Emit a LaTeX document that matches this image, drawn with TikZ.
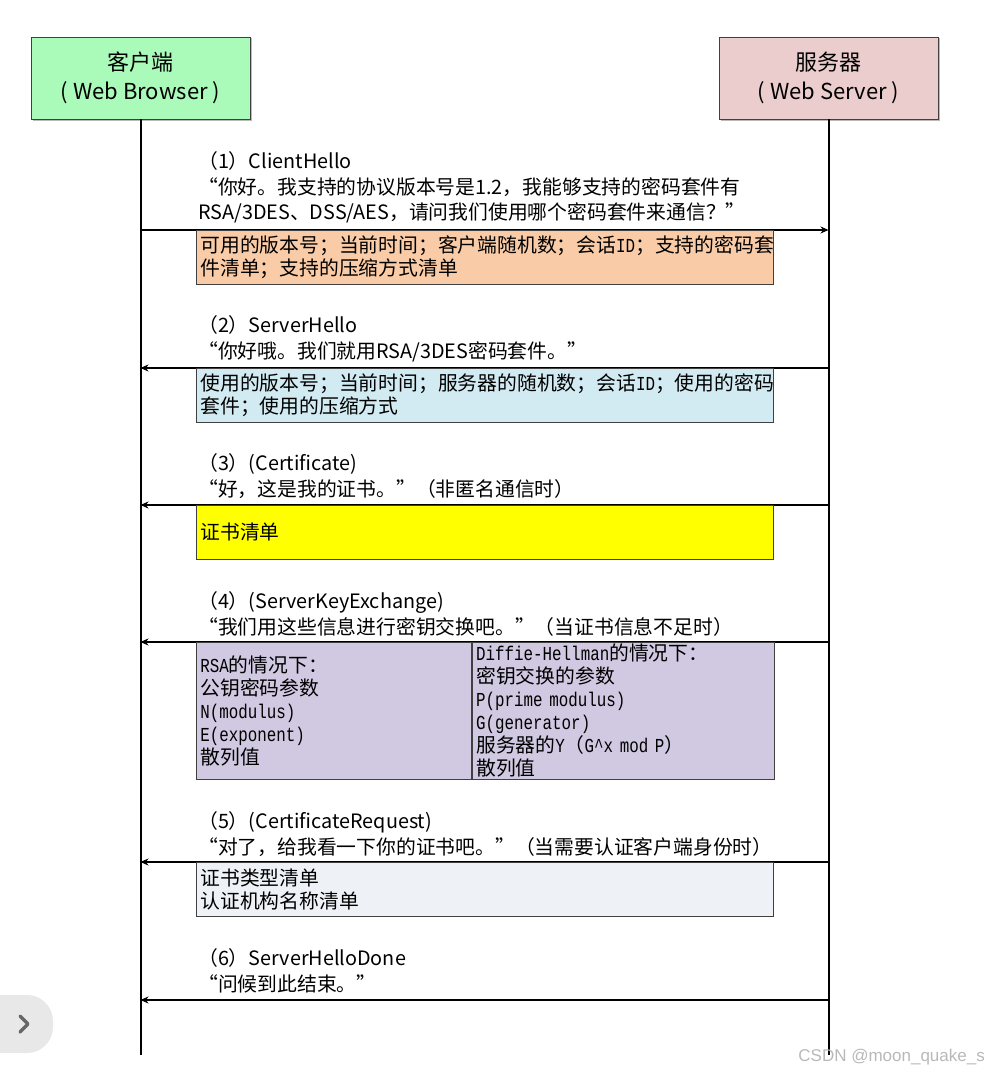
\documentclass[tikz,border=0pt]{standalone}
\usepackage{fontspec}
\setmainfont{Noto Sans CJK SC}
\newfontfamily\boxlatin[FakeStretch=0.8]{Liberation Mono}
\newfontfamily\wmfont{Liberation Sans}
\usetikzlibrary{positioning,arrows.meta,shadows}
\definecolor{clientgreen}{RGB}{170,250,186}
\definecolor{serverpink}{RGB}{236,205,205}
\definecolor{hellopeach}{RGB}{249,203,166}
\definecolor{helloblue}{RGB}{210,234,241}
\definecolor{certyellow}{RGB}{255,255,0}
\definecolor{keylilac}{RGB}{209,200,225}
\definecolor{reqgrey}{RGB}{238,241,245}
\newcommand{\lat}[1]{{\boxlatin #1}}
\begin{document}
\begin{tikzpicture}[x=1pt, y=-1pt, >={Stealth[length=8pt,width=7pt]},
    party/.style={draw=black!75, line width=0.9pt, minimum width=219pt, minimum height=82pt,
        align=center, font=\fontsize{22}{29}\selectfont,
        drop shadow={shadow xshift=1.5pt, shadow yshift=-1.5pt, fill=black!45, opacity=0.6}},
    lifeline/.style={line width=2pt},
    msg/.style={line width=1.3pt},
    said/.style={anchor=north west, inner sep=0pt, align=left, font=\fontsize{19.8}{25.5}\selectfont},
    infobox/.style={draw=black!75, line width=0.8pt, anchor=north west, inner xsep=4pt, inner ysep=1pt,
        align=left, font=\fontsize{19.8}{23}\selectfont,
        drop shadow={shadow xshift=1pt, shadow yshift=-1pt, fill=black!45, opacity=0.5}},
    wmark/.style={text=black!28, font=\wmfont\fontsize{17}{20}\selectfont, inner sep=0pt}]
    \useasboundingbox (0,0) rectangle (987,1073);
    % the two parties and their lifelines
    \node[party, fill=clientgreen] (client) at (140.5,78) {客户端\\( Web Browser )};
    \node[party, fill=serverpink] (server) at (828.5,78) {服务器\\( Web Server )};
    \coordinate (cend) at (140.5,1055);
    \coordinate (send) at (828.5,1055);
    \draw[lifeline] (client.south) -- (cend);
    \draw[lifeline] (server.south) -- (send);
    % where the messages meet the lifelines
    \coordinate (c1) at (140.5,230);
    \coordinate (s1) at (828.5,230);
    \coordinate (c2) at (140.5,368);
    \coordinate (s2) at (828.5,368);
    \coordinate (c3) at (140.5,505);
    \coordinate (s3) at (828.5,505);
    \coordinate (c4) at (140.5,642);
    \coordinate (s4) at (828.5,642);
    \coordinate (c5) at (140.5,862);
    \coordinate (s5) at (828.5,862);
    \coordinate (c6) at (140.5,1000);
    \coordinate (s6) at (828.5,1000);
    % (1) ClientHello
    \node[said] (hello1) at (198,151.5) {（1）ClientHello\\“你好。我支持的协议版本号是1.2，我能够支持的密码套件有\\RSA/3DES、DSS/AES，请问我们使用哪个密码套件来通信？”};
    \draw[msg, ->] (c1) -- (s1);
    \node[infobox, fill=hellopeach, text width=569pt, minimum height=54pt] (clientinfo) at (196,230)
        {可用的版本号；当前时间；客户端随机数；会话\lat{ID}；支持的密码套\\件清单；支持的压缩方式清单};
    % (2) ServerHello
    \node[said] (hello2) at (198,315.5) {（2）ServerHello\\“你好哦。我们就用RSA/3DES密码套件。”};
    \draw[msg, ->] (s2) -- (c2);
    \node[infobox, fill=helloblue, text width=569pt, minimum height=54pt] (serverinfo) at (196,368)
        {使用的版本号；当前时间；服务器的随机数；会话\lat{ID}；使用的密码\\套件；使用的压缩方式};
    % (3) Certificate
    \node[said] (cert) at (198,453.5) {（3）(Certificate)\\“好，这是我的证书。”（非匿名通信时）};
    \draw[msg, ->] (s3) -- (c3);
    \node[infobox, fill=certyellow, text width=569pt, minimum height=54pt] (certinfo) at (196,505)
        {证书清单};
    % (4) ServerKeyExchange
    \node[said] (keyex) at (198,591.5) {（4）(ServerKeyExchange)\\“我们用这些信息进行密钥交换吧。”（当证书信息不足时）};
    \draw[msg, ->] (s4) -- (c4);
    \node[infobox, fill=keylilac, text width=267pt, minimum height=137pt] (rsainfo) at (196,642)
        {\lat{RSA}的情况下：\\公钥密码参数\\\lat{N(modulus)}\\\lat{E(exponent)}\\散列值};
    \node[infobox, fill=keylilac, text width=294pt, minimum height=137pt] (dhinfo) at (rsainfo.north east)
        {\lat{Diffie-Hellman}的情况下：\\密钥交换的参数\\\lat{P(prime modulus)}\\\lat{G(generator)}\\服务器的\lat{Y}（\lat{G\textasciicircum x mod P}）\\散列值};
    % (5) CertificateRequest
    \node[said] (certreq) at (198,811.5) {（5）(CertificateRequest)\\“对了，给我看一下你的证书吧。”（当需要认证客户端身份时）};
    \draw[msg, ->] (s5) -- (c5);
    \node[infobox, fill=reqgrey, text width=569pt, minimum height=54pt] (reqinfo) at (196,862)
        {证书类型清单\\认证机构名称清单};
    % (6) ServerHelloDone
    \node[said] (done) at (198,948.5) {（6）ServerHelloDone\\“问候到此结束。”};
    \draw[msg, ->] (s6) -- (c6);
    % page furniture
    \fill[black!9, rounded corners=26pt] (-40,995) rectangle (53,1053);
    \draw[black!60, line width=3.5pt, line cap=round, line join=round] (20,1016) -- (28,1024) -- (20,1032);
    \node[wmark, anchor=east] (wm) at (985,1057) {CSDN @moon\_quake\_s};
\end{tikzpicture}
\end{document}
